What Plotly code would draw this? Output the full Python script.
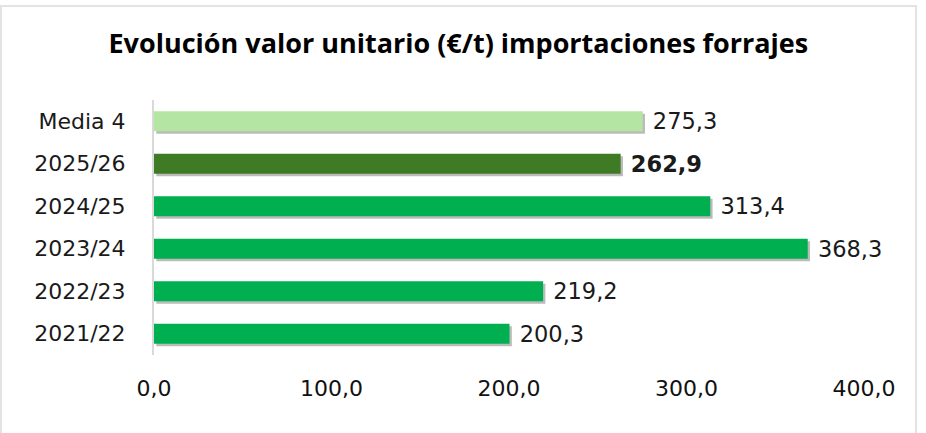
import plotly.graph_objects as go

# Import unit values for forage (EUR/t) by marketing year
categories = ["2021/22", "2022/23", "2023/24", "2024/25", "2025/26", "Media 4"]
values = [200.3, 219.2, 368.3, 313.4, 262.9, 275.3]
bar_colors = ["#00B050", "#00B050", "#00B050", "#00B050", "#3F7B24", "#B4E5A2"]
x_ticks = [0, 100, 200, 300, 400]

labels = []
for cat, v in zip(categories, values):
    s = f"{v:.1f}".replace(".", ",")
    labels.append("\u00a0" + (f"<b>{s}</b>" if cat == "2025/26" else s))

fig = go.Figure()

# soft drop shadow beneath each bar
fig.add_trace(go.Bar(
    y=categories, x=values, base=1.3, orientation="h",
    marker=dict(color="rgba(60,60,60,0.35)", line=dict(width=0)),
    width=0.47, offset=-0.295, hoverinfo="skip", showlegend=False,
))

fig.add_trace(go.Bar(
    y=categories, x=values, orientation="h",
    marker=dict(color=bar_colors, line=dict(width=0)),
    width=0.47, offset=-0.235,
    text=labels, textposition="outside", cliponaxis=False,
    constraintext="none",
    textfont=dict(family="DejaVu Sans", size=22.5, color="#1a1a1a"),
    showlegend=False,
))

fig.update_layout(
    width=926, height=433,
    margin=dict(l=154, r=62, t=100, b=78),
    paper_bgcolor="white", plot_bgcolor="white",
    barmode="overlay", separators=",.",
    title=dict(
        text="<b>Evolución valor unitario (€/t) importaciones forrajes</b>",
        x=0.495, xanchor="center", y=0.9, yanchor="middle",
        font=dict(family="Open Sans", size=27, color="#000000"),
    ),
    xaxis=dict(
        range=[0, 400], tickvals=x_ticks,
        ticktext=[f"{t:.1f}".replace(".", ",") for t in x_ticks],
        showgrid=False, zeroline=False, showline=False,
        ticklabelstandoff=18,
        tickfont=dict(family="DejaVu Sans", size=22, color="#111111"),
    ),
    yaxis=dict(
        categoryorder="array", categoryarray=categories,
        range=[-0.5, 5.5],
        showgrid=False, zeroline=False,
        showline=True, linecolor="#D9D9D9", linewidth=2,
        ticklabelstandoff=22,
        tickfont=dict(family="DejaVu Sans", size=22, color="#1a1a1a"),
    ),
    shapes=[dict(
        type="rect", xref="paper", yref="paper",
        x0=-153/710, x1=1 + 52/710, y0=-1, y1=1 + 94/255,
        line=dict(color="#E3E3E3", width=2), fillcolor="rgba(0,0,0,0)",
        layer="below",
    )],
)

fig.write_html("out.html")
